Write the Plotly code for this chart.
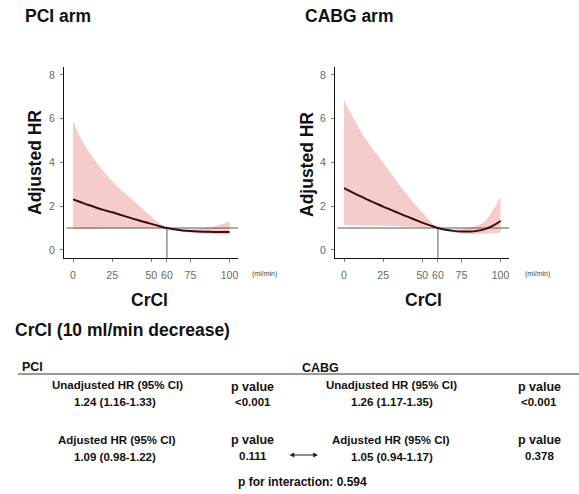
import plotly.graph_objects as go

W, H = 579, 494

# ---- data ----
crcl = [0, 5, 10, 15, 20, 25, 30, 35, 40, 45, 50, 55, 60, 65, 70, 75, 80, 85, 90, 95, 100]
pci_hr = [2.31, 2.18, 2.05, 1.93, 1.82, 1.72, 1.61, 1.50, 1.39, 1.29, 1.19, 1.09, 1.00,
          0.94, 0.89, 0.86, 0.84, 0.83, 0.82, 0.82, 0.82]
pci_upper = [5.90, 5.10, 4.50, 4.00, 3.55, 3.15, 2.80, 2.48, 2.18, 1.85, 1.52, 1.24, 1.00,
             0.94, 0.92, 0.93, 0.95, 1.00, 1.07, 1.17, 1.30]
pci_lower = [0.94, 0.95, 0.96, 0.97, 0.97, 0.98, 0.98, 0.99, 0.99, 1.00, 1.00, 1.00, 1.00,
             0.90, 0.83, 0.78, 0.75, 0.73, 0.71, 0.69, 0.68]
cabg_hr = [2.82, 2.64, 2.47, 2.30, 2.14, 1.98, 1.83, 1.68, 1.53, 1.39, 1.25, 1.12, 1.00,
           0.92, 0.87, 0.84, 0.84, 0.87, 0.95, 1.10, 1.32]
cabg_upper = [6.85, 6.15, 5.50, 4.95, 4.45, 4.00, 3.50, 3.00, 2.55, 2.12, 1.72, 1.33, 1.00,
              0.93, 0.92, 0.95, 1.02, 1.12, 1.30, 1.80, 2.43]
cabg_lower = [1.14, 1.13, 1.12, 1.12, 1.11, 1.10, 1.09, 1.08, 1.06, 1.05, 1.03, 1.02, 1.00,
              0.88, 0.80, 0.75, 0.73, 0.73, 0.74, 0.76, 0.78]

x_ticks = [0, 25, 50, 60, 75, 100]
y_ticks = [0, 2, 4, 6, 8]
ref_crcl = 60
ref_hr = 1

table_rows = [
    # (label, value, p value) for PCI, then CABG
    ("Unadjusted HR (95% CI)", "1.24 (1.16-1.33)", "&lt;0.001",
     "Unadjusted HR (95% CI)", "1.26 (1.17-1.35)", "&lt;0.001"),
    ("Adjusted HR (95% CI)", "1.09 (0.98-1.22)", "0.111",
     "Adjusted HR (95% CI)", "1.05 (0.94-1.17)", "0.378"),
]
p_interaction = "p for interaction: 0.594"

# ---- styling ----
FONT = "Liberation Sans, Arial, sans-serif"
XR = [-5.75, 105.4]
YR = [-0.37, 8.36]
RIB = "rgba(236,140,140,0.45)"
LINE = "#3a0c12"
REF = "#5a5a5a"


def px(x):
    return x / W


def py(y):
    return 1 - y / H


fig = go.Figure()


def add_panel(xa, ya, hr, up, lo):
    fig.add_trace(go.Scatter(x=crcl, y=up, mode="lines", line=dict(width=0, shape="spline"),
                             xaxis=xa, yaxis=ya, showlegend=False, hoverinfo="skip"))
    fig.add_trace(go.Scatter(x=crcl, y=lo, mode="lines", line=dict(width=0, shape="spline"),
                             fill="tonexty", fillcolor=RIB,
                             xaxis=xa, yaxis=ya, showlegend=False, hoverinfo="skip"))
    fig.add_trace(go.Scatter(x=[XR[0] + 1.5, XR[1]], y=[ref_hr, ref_hr], mode="lines",
                             line=dict(color=REF, width=1), xaxis=xa, yaxis=ya,
                             showlegend=False, hoverinfo="skip"))
    fig.add_trace(go.Scatter(x=[ref_crcl, ref_crcl], y=[YR[0], ref_hr], mode="lines",
                             line=dict(color=REF, width=1), xaxis=xa, yaxis=ya,
                             showlegend=False, hoverinfo="skip"))
    fig.add_trace(go.Scatter(x=crcl, y=hr, mode="lines",
                             line=dict(color=LINE, width=2, shape="spline"),
                             xaxis=xa, yaxis=ya, showlegend=False))


add_panel("x", "y", pci_hr, pci_upper, pci_lower)
add_panel("x2", "y2", cabg_hr, cabg_upper, cabg_lower)

ydom = [py(258), py(67)]
axis_common = dict(showgrid=False, zeroline=False, showline=True, linecolor="#111",
                   linewidth=1.3, ticks="outside", ticklen=3, tickcolor="#777",
                   tickfont=dict(family=FONT, size=10.5, color="#666"))

fig.update_layout(
    width=W, height=H, margin=dict(l=0, r=0, t=0, b=0),
    plot_bgcolor="white", paper_bgcolor="white",
    xaxis=dict(domain=[px(64), px(238)], range=XR, tickvals=x_ticks, anchor="y",
               ticklabelstandoff=4, **axis_common),
    yaxis=dict(domain=ydom, range=YR, tickvals=y_ticks, anchor="x",
               ticklabelstandoff=3, **axis_common),
    xaxis2=dict(domain=[px(335), px(509)], range=XR, tickvals=x_ticks, anchor="y2",
                ticklabelstandoff=4, **axis_common),
    yaxis2=dict(domain=ydom, range=YR, tickvals=y_ticks, anchor="x2",
                ticklabelstandoff=3, **axis_common),
)

ann = []


def text(x, y, s, size, bold=True, color="#111", xanchor="center", angle=0):
    ann.append(dict(x=px(x), y=py(y), xref="paper", yref="paper", text=("<b>%s</b>" % s) if bold else s,
                    showarrow=False, xanchor=xanchor, yanchor="middle", textangle=angle,
                    font=dict(family=FONT, size=size, color=color)))


# panel titles
text(23, 16, "PCI arm", 17.5, xanchor="left")
text(303, 16, "CABG arm", 17.5, xanchor="left")
# axis titles
text(35, 163, "Adjusted HR", 17.5, angle=-90)
text(307, 165, "Adjusted HR", 17.5, angle=-90)
text(149, 300, "CrCl", 17.5)
text(423, 300, "CrCl", 17.5)
text(264, 274, "(ml/min)", 7, bold=False, color="#444")
text(537, 274, "(ml/min)", 7, bold=False, color="#444")

# table
text(13, 330, "CrCl (10 ml/min decrease)", 17.5, xanchor="left")
text(20, 367, "PCI", 12.5, xanchor="left")
text(300, 368, "CABG", 12.5, xanchor="left")

row_y = [(385, 402, 387, 402), (440, 457, 440, 456)]
for (lab1, val1, p1, lab2, val2, p2), (yl, yv, ypl, ypv) in zip(table_rows, row_y):
    text(117, yl, lab1, 11.5)
    text(115, yv, val1, 11.5)
    text(252, ypl, "p value", 12.5)
    text(253, ypv, p1, 11.5)
    text(391, yl, lab2, 11.5)
    text(392, yv, val2, 11.5)
    text(539, ypl, "p value", 12.5)
    text(539, ypv, p2, 11.5)
text(302, 482, p_interaction, 12)

# double arrow between adjusted HRs
ann.append(dict(x=px(318), y=py(455), xref="paper", yref="paper", ax=-30, ay=0,
                showarrow=True, arrowside="end+start", arrowhead=2, arrowsize=0.8,
                arrowwidth=1.2, arrowcolor="#222", text=""))

fig.update_layout(annotations=ann)

# table rule
fig.add_shape(type="line", xref="paper", yref="paper", x0=px(18), x1=px(579),
              y0=py(374), y1=py(374), line=dict(color="#777", width=1.5))

fig.write_html("out.html")
